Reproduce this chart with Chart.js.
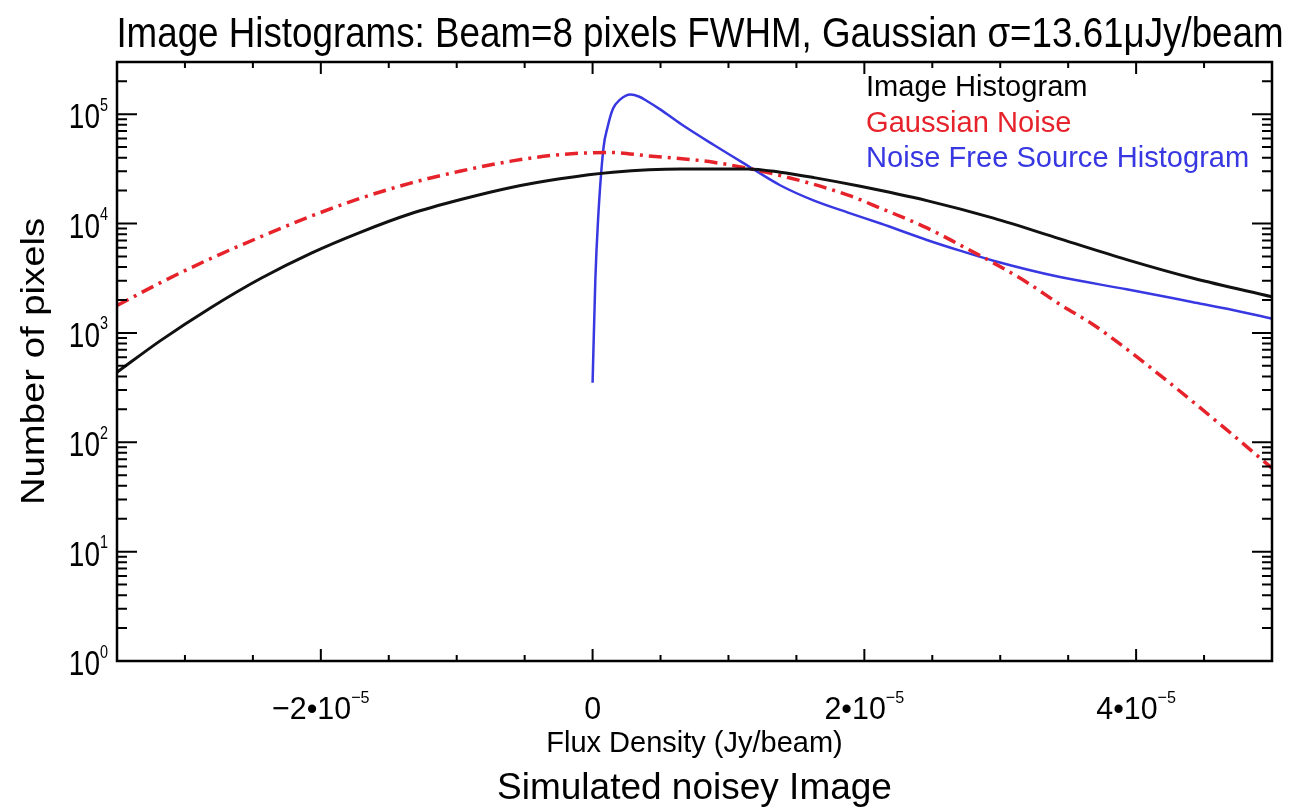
<!DOCTYPE html>
<html>
<head>
<meta charset="utf-8">
<script src="https://cdn.jsdelivr.net/npm/chart.js@4.4.1/dist/chart.umd.min.js"></script>
<style>
  html, body { margin: 0; padding: 0; background: #fff; }
  #wrap { width: 1290px; height: 812px; }
</style>
</head>
<body>
<div id="wrap"><canvas id="histChart" width="1290" height="812"></canvas></div>
<script>
/* ---- data (flux in Jy/beam, counts in pixels) ---- */
const imgFlux = [-35e-6, -31.8e-6, -28.1e-6, -24.4e-6, -20.7e-6, -17.1e-6, -13.4e-6, -9.7e-6, -6.0e-6, -2.4e-6,
  1.5e-6, 6.5e-6, 11.4e-6, 13.8e-6, 16.3e-6, 19.7e-6, 24.6e-6, 29.5e-6, 34.4e-6, 39.3e-6, 44.2e-6, 50e-6];
const imgCounts = [437, 850, 1700, 3160, 5370, 8320, 12300, 16600, 21400, 25700,
  29500, 31600, 31600, 29500, 26300, 21900, 16200, 11200, 7240, 4680, 3160, 2140];

const gaussFlux = [-35e-6, -31.8e-6, -28.1e-6, -24.4e-6, -20.7e-6, -17.1e-6, -13.4e-6, -9.7e-6, -6.0e-6, -2.4e-6,
  1.3e-6, 4.0e-6, 8.9e-6, 13.8e-6, 18.8e-6, 21.2e-6, 24.6e-6, 27.1e-6, 29.5e-6, 32.0e-6,
  34.4e-6, 36.8e-6, 38.8e-6, 41.8e-6, 46.7e-6, 50e-6];
const gaussCounts = [1780, 2880, 4790, 7590, 11700, 17000, 23400, 30200, 37200, 42700,
  44700, 41700, 36300, 27500, 18200, 13800, 9120, 6310, 4370, 2880,
  1820, 1200, 794, 407, 129, 58];

const srcFlux = [0, 0.2e-6, 0.4e-6, 0.8e-6, 1.1e-6, 1.5e-6, 2.0e-6, 2.8e-6, 3.4e-6, 4.0e-6, 5.0e-6, 6.5e-6,
  8.9e-6, 11.4e-6, 13.8e-6, 16.3e-6, 18.8e-6, 21.2e-6, 24.6e-6, 27.1e-6, 29.5e-6, 34.4e-6,
  39.3e-6, 44.2e-6, 46.7e-6, 50e-6];
const srcCounts = [350, 3000, 10700, 49000, 75900, 112000, 135000, 151000, 145000, 132000, 110000, 81300,
  52500, 33900, 22400, 16200, 12600, 10000, 7080, 5620, 4570, 3240,
  2510, 1910, 1660, 1350];

const seriesNames = ['Image Histogram', 'Gaussian Noise', 'Noise Free Source Histogram'];
const xMajorTicks = [-2e-5, 0, 2e-5, 4e-5];
const xTickLabels = [['\u22122\u202210', '\u22125'], ['0', ''], ['2\u202210', '\u22125'], ['4\u202210', '\u22125']];
const yDecades = [1, 10, 100, 1000, 10000, 100000];

const BLACK = '#111111';
const RED = '#e6232b';
const BLUE = '#3838e2';
const FONT = '"Liberation Sans", Arial, Helvetica, sans-serif';

function pts(xs, ys) {
  return xs.map((x, i) => ({ x: x, y: ys[i] }));
}

// condensed text helper (the original lettering is narrow)
function drawText(ctx, s, x, y, size, color, align, sx, rot) {
  ctx.save();
  ctx.translate(x, y);
  if (rot) ctx.rotate(rot);
  ctx.scale(sx, 1);
  ctx.font = size + 'px ' + FONT;
  ctx.fillStyle = color;
  ctx.textAlign = align;
  ctx.textBaseline = 'alphabetic';
  ctx.fillText(s, 0, 0);
  ctx.restore();
}

// base text with a superscript, anchored right or centre at x
function drawPow(ctx, base, sup, x, y, size, supSize, align, sx) {
  ctx.save();
  ctx.font = size + 'px ' + FONT;
  const w1 = ctx.measureText(base).width * sx;
  ctx.font = supSize + 'px ' + FONT;
  const w2 = sup ? ctx.measureText(sup).width * sx : 0;
  ctx.restore();
  const total = w1 + w2;
  const start = align === 'right' ? x - total : x - total / 2;
  drawText(ctx, base, start, y, size, '#000', 'left', sx);
  if (sup) drawText(ctx, sup, start + w1, y - size * 0.5, supSize, '#000', 'left', sx);
}

const decorPlugin = {
  id: 'decor',
  beforeDraw(chart) {
    const ctx = chart.ctx;
    ctx.save();
    ctx.fillStyle = '#fff';
    ctx.fillRect(0, 0, chart.width, chart.height);
    ctx.restore();
  },
  afterDraw(chart) {
    const ctx = chart.ctx;
    const ca = chart.chartArea;
    const xs = chart.scales.x, ys = chart.scales.y;

    ctx.save();
    ctx.strokeStyle = '#000';
    ctx.lineWidth = 2;
    ctx.beginPath();
    // x ticks, every 5e-6, long ones every 2e-5 (bottom and top)
    for (let i = -7; i <= 10; i++) {
      const px = xs.getPixelForValue(i * 5e-6);
      const len = i % 4 === 0 ? 12 : 6;
      ctx.moveTo(px, ca.bottom); ctx.lineTo(px, ca.bottom - len);
      ctx.moveTo(px, ca.top); ctx.lineTo(px, ca.top + len);
    }
    // y ticks, decades and 2..9 (left and right)
    yDecades.forEach(d => {
      for (let m = 1; m <= 9; m++) {
        const v = d * m;
        if (v > ys.max) break;
        const py = ys.getPixelForValue(v);
        const len = m === 1 ? 20 : 10;
        ctx.moveTo(ca.left, py); ctx.lineTo(ca.left + len, py);
        ctx.moveTo(ca.right, py); ctx.lineTo(ca.right - len, py);
      }
    });
    ctx.stroke();
    ctx.lineWidth = 2.5;
    ctx.strokeRect(ca.left, ca.top, ca.right - ca.left, ca.bottom - ca.top);
    ctx.restore();

    // y tick labels
    yDecades.forEach(d => {
      const py = ys.getPixelForValue(d);
      drawPow(ctx, '10', String(Math.round(Math.log10(d))), 108, py + 14, 35, 18, 'right', 0.8);
    });
    // x tick labels
    xMajorTicks.forEach((v, i) => {
      const px = xs.getPixelForValue(v);
      drawPow(ctx, xTickLabels[i][0], xTickLabels[i][1], px, 719, 32, 17, 'center', 0.95);
    });

    // titles
    drawText(ctx, 'Image Histograms: Beam=8 pixels FWHM, Gaussian \u03c3=13.61\u03bcJy/beam',
      700, 47, 42, '#000', 'center', 0.875);
    drawText(ctx, 'Flux Density (Jy/beam)', (ca.left + ca.right) / 2, 752, 29, '#000', 'center', 1);
    drawText(ctx, 'Simulated noisey Image', (ca.left + ca.right) / 2, 799, 37, '#000', 'center', 1);
    drawText(ctx, 'Number of pixels', 44, (ca.top + ca.bottom) / 2, 33, '#000', 'center', 1.16, -Math.PI / 2);

    // legend as coloured text
    chart.data.datasets.forEach((ds, i) => {
      drawText(ctx, ds.label, 866, 96 + i * 35.5, 30, ds.legendColor, 'left', 0.97);
    });
  }
};

new Chart(document.getElementById('histChart'), {
  type: 'line',
  data: {
    datasets: [
      {
        label: seriesNames[0],
        data: pts(imgFlux, imgCounts),
        borderColor: BLACK, legendColor: '#000',
        borderWidth: 3
      },
      {
        label: seriesNames[1],
        data: pts(gaussFlux, gaussCounts),
        borderColor: RED, legendColor: RED,
        borderWidth: 3.5,
        borderDash: [13, 6, 3, 6]
      },
      {
        label: seriesNames[2],
        data: pts(srcFlux, srcCounts),
        borderColor: BLUE, legendColor: BLUE,
        borderWidth: 2.5
      }
    ]
  },
  options: {
    responsive: false,
    animation: false,
    devicePixelRatio: 1,
    layout: { padding: { left: 117, top: 62, right: 18, bottom: 151 } },
    elements: {
      point: { radius: 0 },
      line: { cubicInterpolationMode: 'monotone', fill: false }
    },
    scales: {
      x: { type: 'linear', min: -3.5e-5, max: 5e-5, display: false },
      y: { type: 'logarithmic', min: 1, max: 3e5, display: false }
    },
    plugins: {
      legend: { display: false },
      title: { display: false },
      tooltip: { enabled: false }
    }
  },
  plugins: [decorPlugin]
});
</script>
</body>
</html>
